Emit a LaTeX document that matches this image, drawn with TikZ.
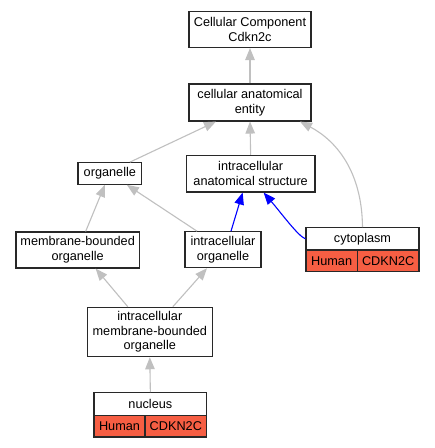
\documentclass[tikz,border=0pt]{standalone}
\usepackage{fontspec}
\setmainfont{Liberation Sans}
\usetikzlibrary{arrows.meta}
\definecolor{cellred}{RGB}{246,94,67}
\definecolor{edgegray}{RGB}{192,192,192}
\definecolor{boxline}{RGB}{40,40,40}
\begin{document}
\begin{tikzpicture}[x=1pt,y=-1pt,
  box/.style={draw=boxline, line width=1.1pt, fill=white, inner sep=0pt, align=center,
    font=\fontsize{12.7}{14.7}\selectfont},
  cell/.style={box, fill=cellred},
  isa/.style={draw=edgegray, line width=1.1pt, -{Triangle[length=12pt,width=9.5pt]}},
  partof/.style={draw=blue, line width=1.1pt, -{Triangle[length=12pt,width=9.5pt]}}]
\fill[white] (0,0) rectangle (435,448);
\useasboundingbox (0,0) rectangle (435,448);

% nodes
\node[box, minimum width=122pt, minimum height=36pt] (cc) at (250,29.5) {Cellular Component\\Cdkn2c};
\node[box, minimum width=122pt, minimum height=37pt] (cae) at (250,102.5) {cellular anatomical\\entity};
\node[box, minimum width=63.7pt, minimum height=21.6pt] (org) at (109.85,173.5) {organelle};
\node[box, minimum width=128.7pt, minimum height=36.7pt] (ias) at (250.65,173.65) {intracellular\\anatomical structure};
\node[box, minimum width=123.3pt, minimum height=36pt] (mbo) at (77.65,250) {membrane-bounded\\organelle};
\node[box, minimum width=76pt, minimum height=36pt] (io) at (223,249.7) {intracellular\\organelle};
\node[box, minimum width=113pt, minimum height=22.3pt] (cyto) at (362.5,238.85) {cytoplasm};
\node[cell, minimum width=51.3pt, minimum height=21.7pt] (cytoh) at (331.65,260.85) {Human};
\node[cell, minimum width=61.7pt, minimum height=21.7pt] (cytog) at (388.15,260.85) {CDKN2C};
\node[box, minimum width=125pt, minimum height=49.4pt] (imbo) at (149.8,332) {intracellular\\membrane-bounded\\organelle};
\node[box, minimum width=112.7pt, minimum height=22.6pt] (nuc) at (150.35,404) {nucleus};
\node[cell, minimum width=51pt, minimum height=21.7pt] (nuch) at (119.5,426.15) {Human};
\node[cell, minimum width=61.7pt, minimum height=21.7pt] (nucg) at (175.85,426.15) {CDKN2C};

% edges
\draw[isa] (cae.north) -- (cc.south);
\draw[isa] ([xshift=20pt]org.north) -- ([xshift=-34pt]cae.south);
\draw[isa] (ias.north) -- (cae.south);
\draw[isa] (cyto.north) .. controls (362,170) and (335,140) .. ([xshift=50pt]cae.south);
\draw[isa] ([xshift=8pt]mbo.north) -- ([xshift=-5pt]org.south);
\draw[isa] ([xshift=-26pt]io.north) -- ([xshift=17pt]org.south);
\draw[partof] ([xshift=8pt]io.north) -- ([xshift=-8pt]ias.south);
\draw[partof] (cyto.west) .. controls (298,236) and (282,214) .. ([xshift=13pt]ias.south);
\draw[isa] ([xshift=-22pt]imbo.north) -- ([xshift=18pt]mbo.south);
\draw[isa] ([xshift=23pt]imbo.north) -- ([xshift=-16pt]io.south);
\draw[isa] (nuc.north) -- (imbo.south);
\end{tikzpicture}
\end{document}
